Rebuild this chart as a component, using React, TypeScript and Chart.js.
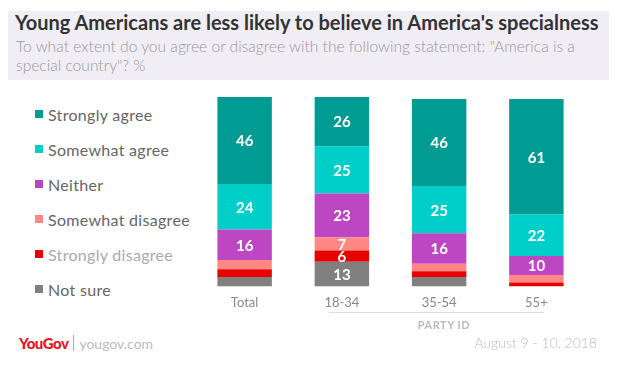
import React, { useEffect, useRef } from "react";
import { Chart, registerables } from "chart.js";
Chart.register(...registerables);

const titleText = "Young Americans are less likely to believe in America's specialness";
const subtitleText = 'To what extent do you agree or disagree with the following statement: "America is a special country"? %';
const categories = ["Total", "18-34", "35-54", "55+"];
const seriesNames = ["Not sure", "Strongly disagree", "Somewhat disagree", "Neither", "Somewhat agree", "Strongly agree"];
const notSure = [5, 13, 5, 0];
const stronglyDisagree = [4, 6, 3, 2];
const somewhatDisagree = [5, 7, 4, 4];
const neither = [16, 23, 16, 10];
const somewhatAgree = [24, 25, 25, 22];
const stronglyAgree = [46, 26, 46, 61];
const seriesValues = [notSure, stronglyDisagree, somewhatDisagree, neither, somewhatAgree, stronglyAgree];
const seriesColors = ["#808080", "#e90000", "#ff8884", "#bd47c3", "#00cfc9", "#009b93"];
const labelThreshold = 6;
const groupLabel = "PARTY ID";
const dateText = "August 9 - 10, 2018";

const FONT = "Lato, 'Open Sans', sans-serif";

const barLabels = {
  id: "barLabels",
  afterDatasetsDraw(chart: any) {
    const ctx = chart.ctx;
    ctx.save();
    ctx.fillStyle = "#ffffff";
    ctx.font = `700 15px ${FONT}`;
    ctx.textAlign = "center";
    ctx.textBaseline = "middle";
    chart.data.datasets.forEach((ds: any, di: number) => {
      const meta = chart.getDatasetMeta(di);
      meta.data.forEach((el: any, i: number) => {
        const v = ds.data[i];
        if (v < labelThreshold) return;
        const p = el.getProps(["x", "y", "base"], true);
        ctx.fillText(String(v), p.x, (p.y + p.base) / 2 + 1);
      });
    });
    ctx.restore();
  },
};

function BarChart() {
  const ref = useRef<HTMLCanvasElement | null>(null);
  useEffect(() => {
    if (!ref.current) return;
    const chart = new Chart(ref.current, {
      type: "bar",
      data: {
        labels: categories,
        datasets: seriesNames.map((name, i) => ({
          label: name,
          data: seriesValues[i],
          backgroundColor: seriesColors[i],
          borderWidth: 0,
          categoryPercentage: 1,
          barPercentage: 0.56,
        })),
      },
      options: {
        animation: false,
        responsive: false,
        maintainAspectRatio: false,
        layout: { padding: { left: 196, right: 32, top: 7, bottom: 4 } },
        plugins: { legend: { display: false }, tooltip: { enabled: false } },
        scales: {
          x: {
            stacked: true,
            grid: { display: false, drawTicks: false },
            border: { display: false },
            ticks: { color: "#888", font: { family: FONT, size: 13 }, padding: 9 },
          },
          y: { stacked: true, display: false, min: 0, max: 100 },
        },
      },
      plugins: [barLabels],
    });
    return () => chart.destroy();
  }, []);
  return (
    <canvas
      ref={ref}
      width={617}
      height={234}
      style={{ position: "absolute", left: 0, top: 90, width: 617, height: 234 }}
    />
  );
}

export default function App() {
  const legendItems = seriesNames.map((n, i) => ({ name: n, color: seriesColors[i] })).reverse();
  return (
    <div style={{ position: "fixed", left: 0, top: 0, width: 617, height: 370, background: "#fff", fontFamily: FONT, overflow: "hidden" }}>
      <div style={{ position: "absolute", left: 8, top: 11, width: 601, height: 69, background: "#f0eef4" }} />
      <div style={{ position: "absolute", left: 15, top: 9, fontSize: 20, fontWeight: 700, color: "#333", whiteSpace: "nowrap", lineHeight: "26px" }}>
        {titleText}
      </div>
      <div style={{ position: "absolute", left: 16, top: 37, width: 590, fontSize: 15.6, fontWeight: 300, color: "#999", lineHeight: "19px" }}>
        {subtitleText}
      </div>
      {legendItems.map((it, i) => (
        <div key={it.name} style={{ position: "absolute", left: 35, top: 114 + i * 35 - 10, height: 20, display: "flex", alignItems: "center" }}>
          <div style={{ width: 8, height: 8, background: it.color, marginRight: 5 }} />
          <span style={{ fontSize: 16, letterSpacing: 0.3, color: it.name === "Strongly disagree" ? "#aaa" : "#666", whiteSpace: "nowrap" }}>{it.name}</span>
        </div>
      ))}
      <BarChart />
      <div style={{ position: "absolute", left: 329, top: 312, width: 215, height: 1, background: "#ddd" }} />
      <div style={{ position: "absolute", left: 394, width: 100, top: 318, textAlign: "center", fontSize: 11, fontWeight: 700, color: "#bbb", letterSpacing: 0.5 }}>
        {groupLabel}
      </div>
      <div style={{ position: "absolute", right: 20, top: 334, fontSize: 14, fontWeight: 300, color: "#bbb", whiteSpace: "nowrap" }}>
        {dateText}
      </div>
      <div style={{ position: "absolute", left: 19, top: 334, display: "flex", alignItems: "center", height: 18 }}>
        <span style={{ fontSize: 15, fontWeight: 900, color: "#e3141f", letterSpacing: -0.5 }}>YouGov</span>
        <span style={{ display: "inline-block", width: 1, height: 16, background: "#aaa", margin: "0 5px 0 5px" }} />
        <span style={{ fontSize: 14, color: "#bbb" }}>yougov.com</span>
      </div>
    </div>
  );
}
